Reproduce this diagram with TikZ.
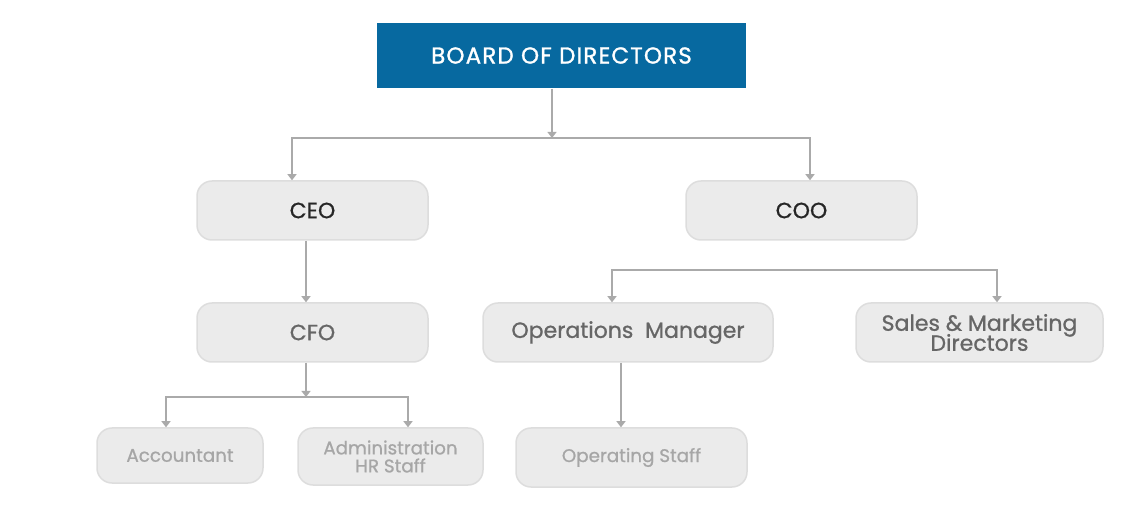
\documentclass[tikz,border=0pt]{standalone}
\usepackage{fontspec}
\setmainfont{Poppins}
\newfontfamily\medfont{Poppins}[FakeBold=0.9]
\newfontfamily\boardfont{Poppins}[FakeBold=1.2,LetterSpace=5]
\usetikzlibrary{arrows.meta}
\usetikzlibrary{shapes,arrows}
\definecolor{boardblue}{HTML}{0769A0}
\definecolor{boxfill}{HTML}{EBEBEB}
\definecolor{boxline}{HTML}{DDDDDD}
\definecolor{linegray}{HTML}{AAAAAA}

\begin{document}
\begin{tikzpicture}[x=1pt,y=1pt,-{Triangle[width=9pt,length=6pt]},draw=linegray,line width=1.2pt]
	\def \rowzeroht{461.5}
	\def \rowoneht{306.5}
	\def \rowtwoht{184.5}
	\def \basement{60}
	\tikzstyle{b-node}=[rectangle,fill=boardblue,text=white,inner sep=0pt,minimum width=369pt,minimum height=65pt,font=\boardfont\fontsize{23}{24}\selectfont]
	\tikzstyle{g-node}=[rectangle,rounded corners=15pt,fill=boxfill,draw=boxline,line width=1.5pt,inner sep=0pt,minimum height=59pt,align=center]
	\tikzstyle{top-node}=[g-node,text=black!85,font=\medfont\fontsize{22}{24}\selectfont]
	\tikzstyle{mid-node}=[g-node,text=black!60,font=\medfont\fontsize{22}{24}\selectfont]
	\tikzstyle{low-node}=[g-node,text=black!35,font=\medfont\fontsize{18.3}{18}\selectfont]
	\useasboundingbox (0,0) rectangle (1122,517);
	
	% board
	\node[b-node] 	(board)	at (561.5,\rowzeroht)	{BOARD OF DIRECTORS};
	
	% first row
	\node[top-node,minimum width=231pt] 	(ceo)	at (312.5,\rowoneht)	{CEO};
	\node[top-node,minimum width=231pt] 	(coo)	at (801.5,\rowoneht)	{COO};
	
	% second row
	\node[mid-node,minimum width=231pt] 	(cfo)	at (312.5,\rowtwoht)	{CFO};
	\node[mid-node,minimum width=290pt] 	(opsman)	at (628,\rowtwoht)	{Operations\ \ Manager};
	\node[mid-node,minimum width=247pt] 	(sales)	at (979.5,\rowtwoht)	{Sales \& Marketing\\[-4pt]Directors};
	
	% third row
	\node[low-node,minimum width=166pt,minimum height=55pt] 	(acct)	at (180,61.5)	{Accountant};
	\node[low-node,minimum width=185pt,minimum height=57pt] 	(admin)	at (390.5,60.5)	{Administration\\HR Staff};
	\node[low-node,minimum width=231pt] 	(opstaff)	at (631.5,59.5)	{Operating Staff};
	
	% junctions
	\coordinate (board-bus)	at (552,379);
	\coordinate (cfo-bus)	at (306,120);
	\coordinate (coo-bus)	at (804.5,247);
	
	\draw ([xshift=-9.5pt]board.south) -- (board-bus);
	\draw (board-bus) -| ([xshift=-20.5pt]ceo.north);
	\draw (board-bus) -| ([xshift=8.5pt]coo.north);
	\draw ([xshift=-6.5pt]ceo.south) -- ([xshift=-6.5pt]cfo.north);
	\draw ([xshift=-6.5pt]cfo.south) -- (cfo-bus);
	\draw (cfo-bus) -| ([xshift=-14pt]acct.north);
	\draw (cfo-bus) -| ([xshift=17.5pt]admin.north);
	\draw (coo-bus) -| ([xshift=-16pt]opsman.north);
	\draw (coo-bus) -| ([xshift=17.5pt]sales.north);
	\draw ([xshift=-7pt]opsman.south) -- ([xshift=-10.5pt]opstaff.north);
		
\end{tikzpicture}
\end{document}
